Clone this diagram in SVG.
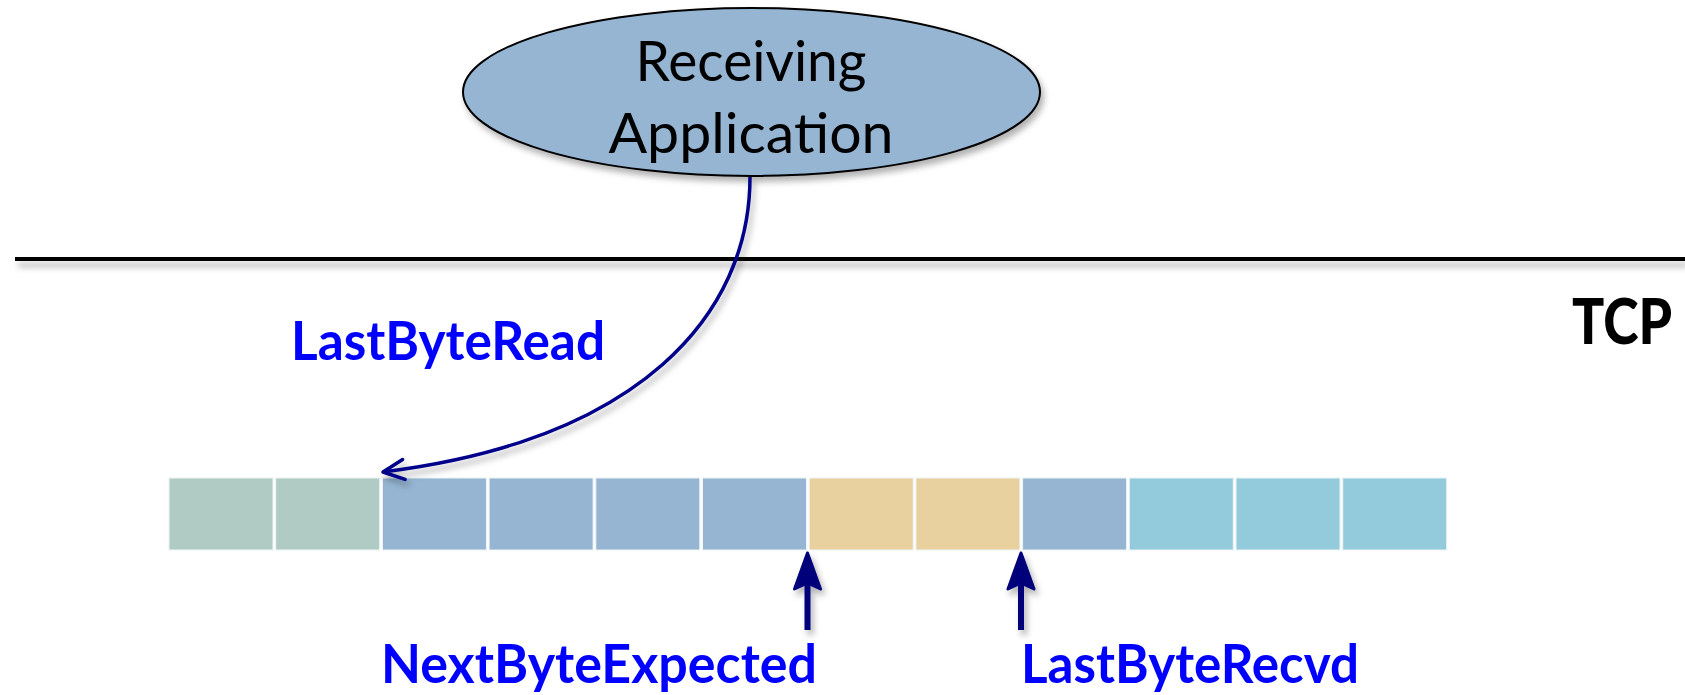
<svg xmlns="http://www.w3.org/2000/svg" width="1685" height="695" viewBox="0 0 1685 695">
  <style>
    .app-fill { fill: #95B5D2; stroke: #000; stroke-width: 2; }
    .app-text { font-family: Lato, "Open Sans", "DejaVu Sans", sans-serif; font-size: 56px; fill: #000; text-anchor: middle; }
    .ptr-label { font-family: Lato, "DejaVu Sans", sans-serif; font-weight: 700; font-size: 54px; fill: #0000FF; }
    .layer-label { font-family: Lato, "DejaVu Sans", sans-serif; font-weight: 900; font-size: 62px; fill: #000; }
    .cell { stroke: #EEF4F6; stroke-width: 1; }
    .read { fill: #B0CBC4; }
    .held { fill: #95B5D2; }
    .gap { fill: #E8D19E; }
    .free { fill: #94CBDC; }
    .curve { fill: none; stroke: #00008B; stroke-width: 3.5; }
    .pointer { stroke: #00007A; stroke-width: 6; }
  </style>
  <defs>
    <filter id="shadow" x="-10%" y="-20%" width="130%" height="160%">
      <feDropShadow dx="3" dy="5" stdDeviation="3" flood-color="#000" flood-opacity="0.3"/>
    </filter>
    <!-- the divider is a zero-height line, so its filter region is given in user space -->
    <filter id="lineShadow" filterUnits="userSpaceOnUse" x="0" y="240" width="1685" height="50">
      <feDropShadow dx="3" dy="6" stdDeviation="3" flood-color="#000" flood-opacity="0.3"/>
    </filter>
    <marker id="openHead" markerUnits="userSpaceOnUse" markerWidth="40" markerHeight="40" viewBox="-30 -20 40 40" refX="0" refY="0" orient="auto" overflow="visible">
      <path d="M-21,-10 L0,0 L-21,10" fill="none" stroke="#00008B" stroke-width="3.5" stroke-linecap="round" stroke-linejoin="round"/>
    </marker>
    <marker id="solidHead" markerUnits="userSpaceOnUse" markerWidth="50" markerHeight="40" viewBox="-20 -20 50 40" refX="0" refY="0" orient="auto" overflow="visible">
      <path d="M26,0 L-10,-13 L-4,0 L-10,13 Z" fill="#00007A" stroke="#00007A" stroke-width="3" stroke-linejoin="round"/>
    </marker>
  </defs>

  <!-- application / TCP boundary -->
  <g id="divider" filter="url(#lineShadow)">
    <line x1="15" y1="259" x2="1685" y2="259" stroke="#000" stroke-width="4"/>
  </g>
  <g id="tcp-label">
    <text class="layer-label" x="1572" y="344" textLength="100" lengthAdjust="spacingAndGlyphs">TCP</text>
  </g>

  <!-- receiving application -->
  <g id="receiving-app">
    <ellipse class="app-fill" cx="751.5" cy="92" rx="288.5" ry="84" filter="url(#shadow)"/>
    <text class="app-text" x="751" y="81" textLength="231" lengthAdjust="spacingAndGlyphs">Receiving</text>
    <text class="app-text" x="751" y="153" textLength="285" lengthAdjust="spacingAndGlyphs">Application</text>
  </g>

  <!-- receive buffer -->
  <g id="buffer">
    <rect id="cell-0" class="cell read" x="169" y="478" width="104" height="72"/>
    <rect id="cell-1" class="cell read" x="275.7" y="478" width="104" height="72"/>
    <rect id="cell-2" class="cell held" x="382.4" y="478" width="104" height="72"/>
    <rect id="cell-3" class="cell held" x="489.1" y="478" width="104" height="72"/>
    <rect id="cell-4" class="cell held" x="595.8" y="478" width="104" height="72"/>
    <rect id="cell-5" class="cell held" x="702.5" y="478" width="104" height="72"/>
    <rect id="cell-6" class="cell gap" x="809.2" y="478" width="104" height="72"/>
    <rect id="cell-7" class="cell gap" x="915.9" y="478" width="104" height="72"/>
    <rect id="cell-8" class="cell held" x="1022.6" y="478" width="104" height="72"/>
    <rect id="cell-9" class="cell free" x="1129.3" y="478" width="104" height="72"/>
    <rect id="cell-10" class="cell free" x="1236" y="478" width="104" height="72"/>
    <rect id="cell-11" class="cell free" x="1342.7" y="478" width="104" height="72"/>
  </g>

  <!-- pointers into the buffer -->
  <g id="connectors" filter="url(#shadow)">
    <path id="read-pointer" class="curve" d="M750,177 C750,315 640,440 383,472" marker-end="url(#openHead)"/>
    <line id="expected-pointer" class="pointer" x1="807.5" y1="630" x2="807.5" y2="579" marker-end="url(#solidHead)"/>
    <line id="recvd-pointer" class="pointer" x1="1021" y1="630" x2="1021" y2="579" marker-end="url(#solidHead)"/>
  </g>

  <!-- pointer labels -->
  <g id="label-last-byte-read">
    <text class="ptr-label" x="291" y="360" textLength="314" lengthAdjust="spacingAndGlyphs">LastByteRead</text>
  </g>
  <g id="label-next-byte-expected">
    <text class="ptr-label" x="381" y="683" textLength="436" lengthAdjust="spacingAndGlyphs">NextByteExpected</text>
  </g>
  <g id="label-last-byte-recvd">
    <text class="ptr-label" x="1021" y="683" textLength="338" lengthAdjust="spacingAndGlyphs">LastByteRecvd</text>
  </g>
</svg>
